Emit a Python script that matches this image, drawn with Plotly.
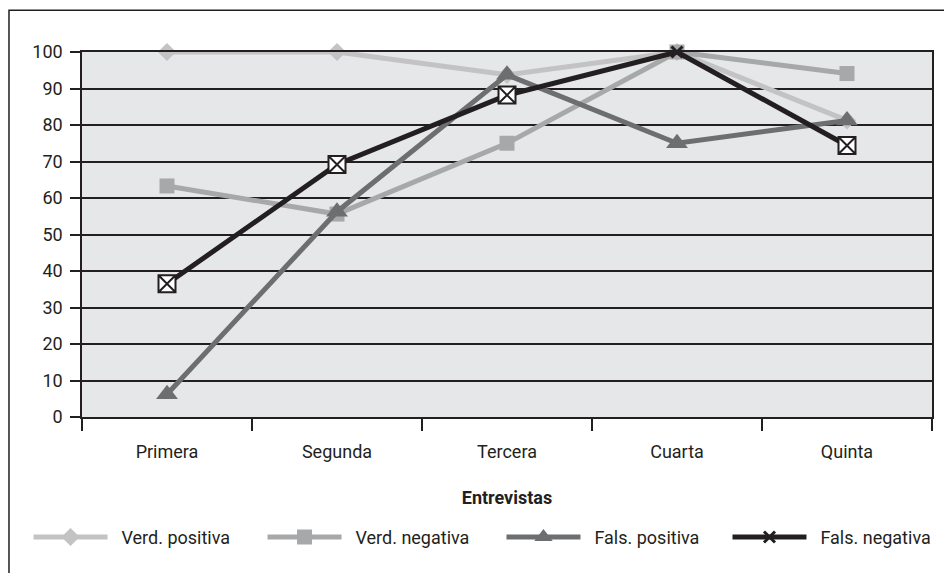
import plotly.graph_objects as go

# Interview rounds and the four outcome series (percent)
entrevistas = ["Primera", "Segunda", "Tercera", "Cuarta", "Quinta"]
verd_positiva = [100, 100, 93.75, 100, 81.25]
verd_negativa = [63.3, 55.6, 75, 100, 94.1]
fals_positiva = [6.25, 56.25, 93.75, 75, 81.25]
fals_negativa = [36.5, 69.2, 88.2, 100, 74.4]
y_ticks = list(range(0, 101, 10))

INK = "#231f20"
FONT = "Roboto"
PAD = "\u00a0\u00a0"   # extra room between legend sample and its text

fig = go.Figure()

fig.add_trace(go.Scatter(
    x=entrevistas, y=verd_positiva, name=PAD + "Verd. positiva", mode="lines+markers",
    line=dict(color="#c3c3c4", width=5), cliponaxis=False, legend="legend",
    marker=dict(symbol="diamond", size=14, color="#c3c3c4"),
))
fig.add_trace(go.Scatter(
    x=entrevistas, y=verd_negativa, name=PAD + "Verd. negativa", mode="lines+markers",
    line=dict(color="#a7a8aa", width=5), cliponaxis=False, legend="legend2",
    marker=dict(symbol="square", size=15, color="#a7a8aa"),
))
fig.add_trace(go.Scatter(
    x=entrevistas, y=fals_positiva, name=PAD + "Fals. positiva", mode="lines+markers",
    line=dict(color="#6d6e70", width=5), cliponaxis=False, legend="legend3",
    marker=dict(symbol="triangle-up", size=19, color="#6d6e70"),
))
fig.add_trace(go.Scatter(
    x=entrevistas, y=fals_negativa, name=PAD + "Fals. negativa", mode="lines+markers",
    line=dict(color=INK, width=5), cliponaxis=False, legend="legend4",
    marker=dict(symbol="x-thin", size=11, color=INK, line=dict(color=INK, width=3)),
))
# boxed markers over the black line (the fourth round keeps the plain cross)
box_x = [c for i, c in enumerate(entrevistas) if i != 3]
box_y = [v for i, v in enumerate(fals_negativa) if i != 3]
fig.add_trace(go.Scatter(
    x=box_x, y=box_y, mode="markers", showlegend=False, hoverinfo="skip",
    cliponaxis=False,
    marker=dict(symbol="square-x", size=17, color="white", line=dict(color=INK, width=2)),
))

axis_font = dict(family=FONT, size=18, color=INK)


def legend_at(x):
    return dict(
        orientation="h", x=x, xanchor="left", y=-0.3296, yanchor="middle",
        font=dict(family=FONT, size=18, color=INK), itemwidth=74,
        bgcolor="rgba(0,0,0,0)",
    )


fig.update_layout(
    width=944, height=573,
    margin=dict(l=82, r=12, t=52, b=156, autoexpand=False),
    paper_bgcolor="white",
    plot_bgcolor="#e6e7e8",
    font=axis_font,
    showlegend=True,
    legend=legend_at(-0.0629),
    legend2=legend_at(0.2124),
    legend3=legend_at(0.4935),
    legend4=legend_at(0.7594),
    xaxis=dict(
        type="category", range=[-0.5, 4.5],
        tickson="boundaries", ticks="outside", ticklen=12, tickwidth=1.5, tickcolor=INK,
        showline=True, linecolor=INK, linewidth=1.5, mirror=True,
        showgrid=False, tickfont=axis_font, ticklabelstandoff=18,
        title=dict(text="<b>Entrevistas</b>",
                   font=dict(family=FONT, size=18, color=INK, weight=900), standoff=30),
    ),
    yaxis=dict(
        range=[0, 100], tickvals=y_ticks, ticks="outside", ticklen=10, tickwidth=1.5,
        tickcolor=INK, showline=True, linecolor=INK, linewidth=1.5, mirror=True,
        showgrid=True, gridcolor=INK, gridwidth=1.5, zeroline=False,
        tickfont=axis_font, ticklabelstandoff=4,
    ),
    shapes=[
        dict(type="rect", xref="paper", yref="paper", x0=-0.0859, x1=1.2, y0=-0.5, y1=1.1142,
             line=dict(color=INK, width=1.5), fillcolor="rgba(0,0,0,0)", layer="below"),
    ],
)

fig.write_html("out.html")
